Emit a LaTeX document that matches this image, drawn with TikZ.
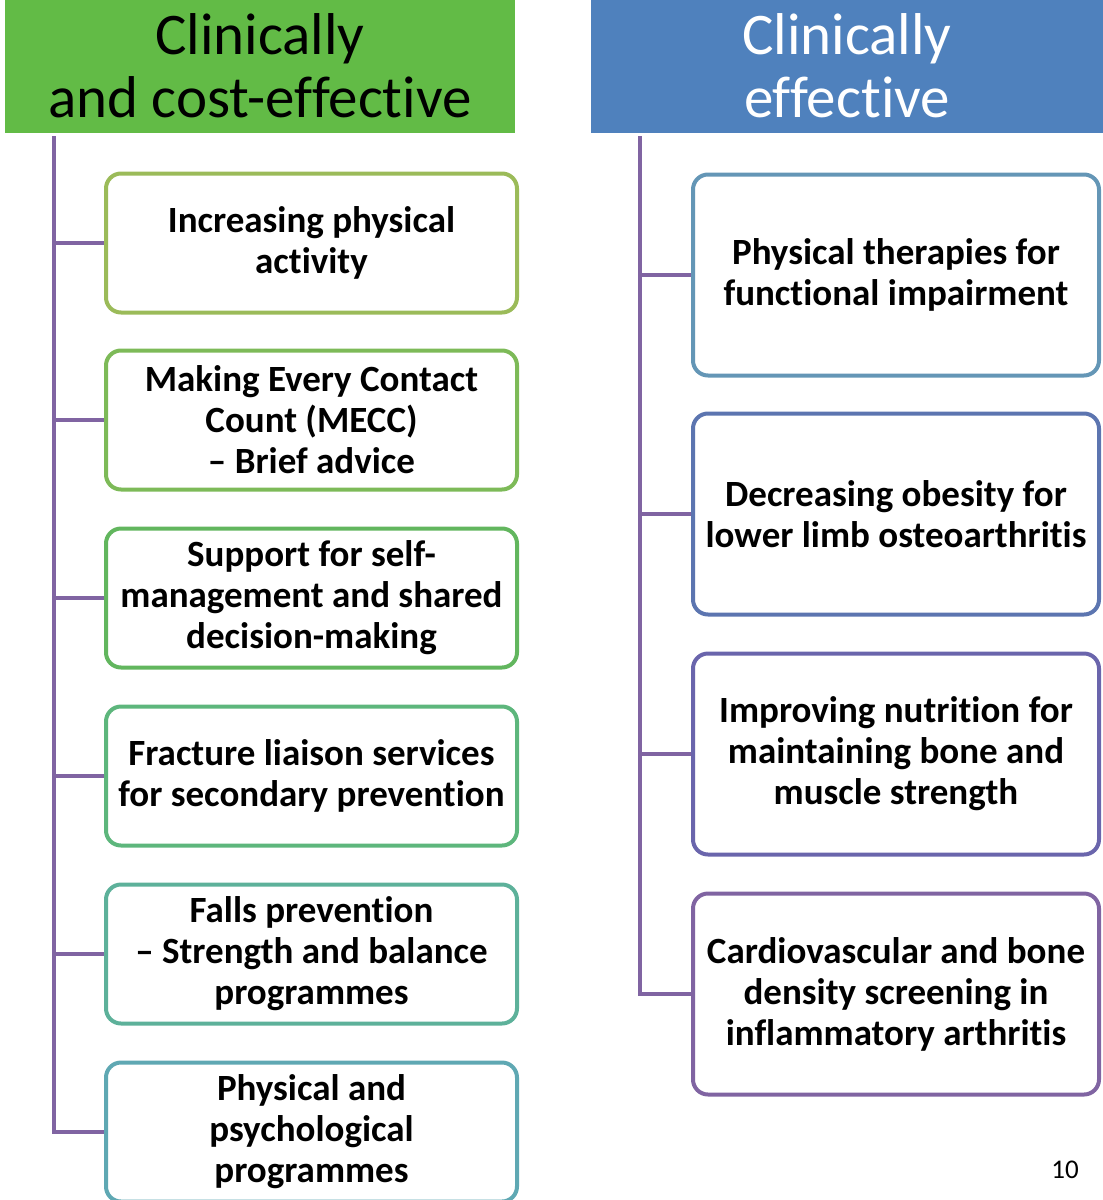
\documentclass[tikz,border=0pt]{standalone}
\usepackage{fontspec}
\setmainfont{Carlito}[Ligatures=NoCommon]
\usetikzlibrary{positioning}

\definecolor{hdgreen}{HTML}{62BB46}
\definecolor{hdblue}{HTML}{4F81BD}
\definecolor{trunkpurple}{HTML}{8064A2}
\definecolor{lcA}{HTML}{9BBB59}
\definecolor{lcB}{HTML}{7DBA58}
\definecolor{lcC}{HTML}{62B65E}
\definecolor{lcD}{HTML}{5DB67C}
\definecolor{lcE}{HTML}{5DB19A}
\definecolor{lcF}{HTML}{5FA8B3}
\definecolor{rcA}{HTML}{6496B6}
\definecolor{rcB}{HTML}{5C75B0}
\definecolor{rcC}{HTML}{6A65AC}
\definecolor{rcD}{HTML}{8064A2}

\begin{document}
\begin{tikzpicture}[x=1pt, y=-1pt,
    header/.style={fill=#1, minimum width=510pt, minimum height=134pt, inner sep=0pt,
      align=center, font=\fontsize{59}{63}\selectfont},
    lbox/.style={draw=#1, line width=4pt, rounded corners=15pt, fill=white,
      minimum width=411pt, minimum height=139pt, inner sep=0pt, align=center,
      font=\bfseries\fontsize{37}{41}\selectfont},
    rbox/.style={lbox=#1, minimum width=406pt, minimum height=201pt},
    trunk/.style={draw=trunkpurple, line width=4pt}]
  \useasboundingbox (0,0) rectangle (1103,1200);

  % headers
  \node[header=hdgreen] (lhead) at (260,66) {Clinically\\and cost-effective};
  \node[header=hdblue, text=white, minimum width=512pt] (rhead) at (847,66) {Clinically\\effective};

  % left column
  \node[lbox=lcA] (incr) at (311.5,243) {Increasing physical\\activity};
  \node[lbox=lcB] (mecc) at (311.5,420) {Making Every Contact\\Count (MECC)\\– Brief advice};
  \node[lbox=lcC] (self) at (311.5,598) {Support for self-\\management and shared\\decision-making};
  \node[lbox=lcD] (frac) at (311.5,776) {Fracture liaison services\\for secondary prevention};
  \node[lbox=lcE] (falls) at (311.5,954) {Falls prevention\\– Strength and balance\\programmes};
  \node[lbox=lcF] (psych) at (311.5,1132) {Physical and\\psychological\\programmes};

  % right column
  \node[rbox=rcA] (ther) at (896,275) {Physical therapies for\\functional impairment};
  \node[rbox=rcB] (obes) at (896,514) {Decreasing obesity for\\lower limb osteoarthritis};
  \node[rbox=rcC] (nutr) at (896,754) {Improving nutrition for\\maintaining bone and\\muscle strength};
  \node[rbox=rcD] (card) at (896,994) {Cardiovascular and bone\\density screening in\\inflammatory arthritis};

  % connectors
  \coordinate (ltop) at (54,136);
  \coordinate (rtop) at (640,136);
  \draw[trunk] (ltop) |- (psych.west);
  \foreach \b in {incr,mecc,self,frac,falls}
    \draw[trunk] (ltop |- \b.west) -- (\b.west);
  \draw[trunk] (rtop) |- (card.west);
  \foreach \b in {ther,obes,nutr}
    \draw[trunk] (rtop |- \b.west) -- (\b.west);

  \node (pnum) at (1065,1170) {\fontsize{27}{30}\selectfont 10};
\end{tikzpicture}
\end{document}
